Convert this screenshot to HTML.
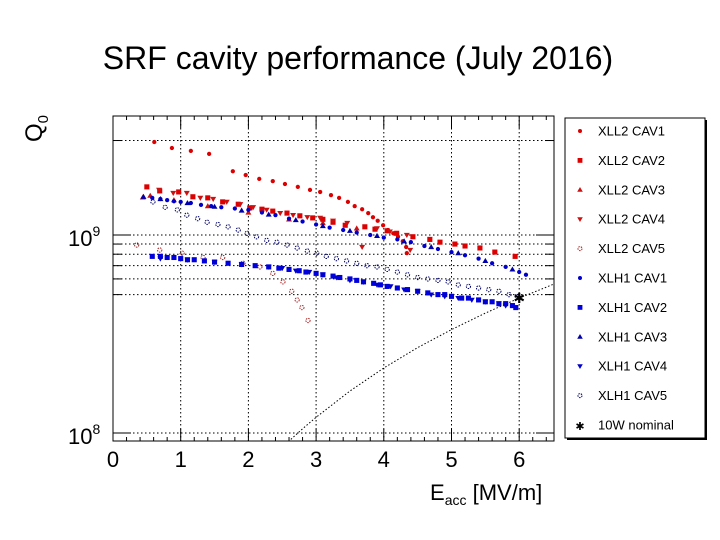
<!DOCTYPE html>
<html><head><meta charset="utf-8">
<style>
html,body{margin:0;padding:0;background:#fff;}
svg{display:block;font-family:"Liberation Sans",Arial,sans-serif;}
</style></head>
<body>
<svg id="chart" width="720" height="540" viewBox="0 0 720 540" xmlns="http://www.w3.org/2000/svg">
<text x="358" y="69" font-size="32" text-anchor="middle">SRF cavity performance (July 2016)</text>
<g id="grid"></g>
<g id="axes"></g>
<g id="marks"></g>
<text transform="translate(42,142) rotate(-90)" font-size="24">Q<tspan font-size="15" dy="6">0</tspan></text>
<text x="430" y="500" font-size="22">E<tspan font-size="14" dy="5">acc</tspan><tspan dy="-5"> [MV/m]</tspan></text>
<g id="legend"></g>
</svg>
<script>
const xTicks=[0,1,2,3,4,5,6];
const yGridVals=[0.1,0.5,0.6,0.7,0.8,0.9,1,3];
const e_xll2c1=[0.61,0.87,1.15,1.42,1.77,1.96,2.16,2.36,2.54,2.73,2.91,3.06,3.22,3.34,3.47,3.57,3.68,3.77,3.84,3.91,3.99,4.06,4.14,4.21,4.28,4.33,4.34];
const q_xll2c1=[2.95,2.75,2.66,2.57,2.10,2.01,1.92,1.87,1.81,1.75,1.69,1.65,1.59,1.54,1.47,1.40,1.35,1.29,1.23,1.18,1.12,1.06,1.02,0.98,0.93,0.87,0.81];
const e_xll2c2=[0.50,0.69,0.97,1.18,1.40,1.62,1.85,2.02,2.20,2.36,2.57,2.76,2.95,3.10,3.25,3.43,3.72,3.87,4.05,4.19,4.43,4.68,4.83,5.05,5.20,5.42,5.64,5.94];
const q_xll2c2=[1.75,1.67,1.65,1.56,1.54,1.47,1.43,1.37,1.35,1.32,1.29,1.25,1.22,1.20,1.16,1.12,1.10,1.07,1.05,1.02,0.98,0.95,0.92,0.90,0.88,0.86,0.82,0.78];
const e_xll2c3=[0.44,0.55,0.9,1.4,2.0,2.6,3.1,3.6];
const q_xll2c3=[1.55,1.58,1.50,1.40,1.30,1.20,1.15,1.08];
const e_xll2c4=[0.68,0.89,1.09,1.29,1.48,1.68,1.88,2.07,2.27,2.47,2.66,2.87,3.06,3.25,3.46,3.68,3.90,4.09,4.34,4.39];
const q_xll2c4=[1.69,1.63,1.63,1.54,1.52,1.47,1.43,1.38,1.34,1.29,1.26,1.23,1.22,1.18,1.15,0.87,1.08,1.04,1.00,0.84];
const e_xll2c5=[0.35,0.69,1.02,1.33,1.62,1.92,2.17,2.36,2.51,2.64,2.72,2.79,2.88];
const q_xll2c5=[0.89,0.84,0.81,0.77,0.77,0.72,0.69,0.64,0.58,0.52,0.47,0.43,0.37];
const e_xlh1c1=[0.58,0.7,0.8,0.9,1.0,1.15,1.3,1.45,1.6,1.8,2.0,2.2,2.4,2.6,2.8,3.0,3.2,3.4,3.6,3.8,4.0,4.2,4.4,4.6,4.8,5.0,5.2,5.4,5.6,5.8,6.0,6.1];
const q_xlh1c1=[1.54,1.52,1.50,1.48,1.47,1.45,1.42,1.40,1.38,1.36,1.34,1.30,1.26,1.21,1.17,1.13,1.09,1.06,1.03,1.00,0.97,0.95,0.92,0.88,0.85,0.82,0.79,0.76,0.72,0.69,0.65,0.63];
const q_xlh1c2=[0.78,0.78,0.77,0.77,0.76,0.75,0.75,0.74,0.73,0.72,0.71,0.70,0.69,0.68,0.67,0.66,0.65,0.64,0.63,0.62,0.61,0.60,0.59,0.58,0.57,0.56,0.55,0.54,0.53,0.52,0.51,0.50,0.50,0.49,0.48,0.48,0.47,0.46,0.46,0.45,0.45,0.44,0.43];
const e_xlh1c2=[0.58,0.7,0.8,0.9,1.0,1.1,1.2,1.35,1.5,1.7,1.9,2.1,2.3,2.45,2.6,2.75,2.85,3.0,3.1,3.25,3.35,3.5,3.6,3.7,3.85,3.95,4.05,4.2,4.35,4.5,4.65,4.8,4.9,5.0,5.15,5.25,5.4,5.5,5.6,5.7,5.8,5.9,5.95];
const e_xlh1c3=[0.45,0.7,1.1,1.5,1.9,2.3,2.7,3.1,3.5,3.9,4.3,4.7,5.1,5.5,5.9];
const q_xlh1c3=[1.56,1.52,1.45,1.39,1.33,1.27,1.19,1.11,1.05,0.99,0.93,0.87,0.81,0.74,0.67];
const e_xlh1c4=[0.7,1.1,1.5,1.9,2.3,2.5,2.7,2.9,3.1,3.3,3.5,3.7,3.9,4.1,4.3,4.5,4.7,4.9,5.1,5.3,5.5,5.7,5.8];
const q_xlh1c4=[0.76,0.75,0.73,0.71,0.69,0.68,0.66,0.65,0.63,0.61,0.59,0.58,0.56,0.55,0.53,0.52,0.50,0.49,0.48,0.47,0.46,0.45,0.44];
const e_xlh1c5=[0.59,0.77,0.95,1.09,1.25,1.39,1.55,1.70,1.85,1.98,2.12,2.27,2.42,2.57,2.72,2.87,3.01,3.15,3.30,3.45,3.60,3.75,3.90,4.05,4.20,4.35,4.50,4.65,4.80,4.95,5.10,5.25,5.40,5.55,5.70,5.85,5.97];
const q_xlh1c5=[1.47,1.38,1.34,1.26,1.21,1.16,1.13,1.10,1.06,1.02,0.98,0.94,0.92,0.89,0.86,0.83,0.81,0.78,0.76,0.74,0.72,0.70,0.69,0.67,0.65,0.63,0.61,0.60,0.59,0.58,0.56,0.55,0.54,0.53,0.52,0.50,0.49];
const e_nominal=[0,2.6,2.8,3.0,3.5,4.0,4.5,5.0,5.5,6.0,6.5];
const q_nominal=[0.091,0.090,0.105,0.12,0.163,0.213,0.27,0.333,0.403,0.48,0.563];
const e_star=[6.0];
const q_star=[0.48];
const legendLabels=["XLL2 CAV1","XLL2 CAV2","XLL2 CAV3","XLL2 CAV4","XLL2 CAV5","XLH1 CAV1","XLH1 CAV2","XLH1 CAV3","XLH1 CAV4","XLH1 CAV5","10W nominal"];

const NS="http://www.w3.org/2000/svg";
const X0=113,X1=554,Y0=116,Y1=441;
function xs(e){return 113+e*67.7;}
function ys(q){return 235-198*Math.log10(q);}
const qMin=Math.pow(10,(235-441)/198);
function mk(tag,attrs,parent){const el=document.createElementNS(NS,tag);for(const k in attrs)el.setAttribute(k,attrs[k]);parent.appendChild(el);return el;}
const grid=document.getElementById('grid'),axes=document.getElementById('axes'),marks=document.getElementById('marks'),legend=document.getElementById('legend');

xTicks.forEach(t=>{
  if(t>0){const g=mk('line',{x1:xs(t),x2:xs(t),y1:Y0,y2:Y1,stroke:'#000','stroke-width':1,'stroke-dasharray':'1.5,2.5'},grid);
  
  }
  const l=mk('text',{x:xs(t),y:467,'font-size':22,'text-anchor':'middle'},axes);l.textContent=t;
  
  
});
yGridVals.forEach(v=>{
  const g=mk('line',{x1:X0,x2:X1,y1:ys(v),y2:ys(v),stroke:'#000','stroke-width':1,'stroke-dasharray':'1.5,2.5'},grid);
  
  
  mk('line',{x1:X0,x2:X0+(v===1||v===0.1?18:9),y1:ys(v),y2:ys(v),stroke:'#000'},axes);
  mk('line',{x1:X1,x2:X1-(v===1||v===0.1?18:9),y1:ys(v),y2:ys(v),stroke:'#000'},axes);
});
for(let t=0.2;t<6.6;t+=0.2){
  const big=Math.abs(t-Math.round(t))<0.01;const h=big?12:(Math.abs(t*2-Math.round(t*2))<0.01?7:4);
  mk('line',{x1:xs(t),x2:xs(t),y1:Y1,y2:Y1-h,stroke:'#000'},axes);
  mk('line',{x1:xs(t),x2:xs(t),y1:Y0,y2:Y0+h,stroke:'#000'},axes);
}
const fr=mk('rect',{x:X0,y:Y0,width:X1-X0,height:Y1-Y0,fill:'none',stroke:'#000','stroke-width':1},axes);


[[1,240],[0.1,438]].forEach(([v,y])=>{
  const t=mk('text',{x:68,y:y+6,'font-size':22},axes);t.innerHTML='10<tspan font-size="14" dy="-10">'+(v===1?9:8)+'</tspan>';
  
  
});

function marker(type,x,y,color,parent,s){
  s=s||0.85;
  if(type==='circle')return mk('circle',{cx:x,cy:y,r:2.5*s,fill:color},parent);
  if(type==='square')return mk('rect',{x:x-3*s,y:y-3*s,width:6*s,height:6*s,fill:color},parent);
  if(type==='tri')return mk('path',{d:`M${x},${y-3.5*s}L${x+3.5*s},${y+2.5*s}L${x-3.5*s},${y+2.5*s}Z`,fill:color},parent);
  if(type==='tridown')return mk('path',{d:`M${x},${y+3.5*s}L${x+3.5*s},${y-2.5*s}L${x-3.5*s},${y-2.5*s}Z`,fill:color},parent);
  if(type==='open')return mk('circle',{cx:x,cy:y,r:2.5*s,fill:'none',stroke:color,'stroke-width':1,'stroke-dasharray':'1.5,1'},parent);
  if(type==='star')return mk('text',{x:x,y:y+5,'font-size':14*s,'text-anchor':'middle',fill:color},parent);
}
const series=[
 ['xll2-cav1',e_xll2c1,q_xll2c1,'circle','#dd0000'],
 ['xll2-cav2',e_xll2c2,q_xll2c2,'square','#dd0000'],
 ['xll2-cav3',e_xll2c3,q_xll2c3,'tri','#cc1111'],
 ['xll2-cav4',e_xll2c4,q_xll2c4,'tridown','#cc1111'],
 ['xll2-cav5',e_xll2c5,q_xll2c5,'open','#aa2222'],
 ['xlh1-cav5',e_xlh1c5,q_xlh1c5,'open','#000066'],
 ['xlh1-cav1',e_xlh1c1,q_xlh1c1,'circle','#0000cc'],
 ['xlh1-cav2',e_xlh1c2,q_xlh1c2,'square','#0000dd'],
 ['xlh1-cav3',e_xlh1c3,q_xlh1c3,'tri','#0000aa'],
 ['xlh1-cav4',e_xlh1c4,q_xlh1c4,'tridown','#0000cc']
];
const pts=e_nominal.map((e,i)=>xs(e)+','+ys(Math.max(q_nominal[i],qMin)).toFixed(1)).join(' ');
const nl=mk('polyline',{points:pts,fill:'none',stroke:'#000','stroke-width':1,'stroke-dasharray':'1.5,2'},marks);


series.forEach(([name,E,Q,type,color])=>{
  const g=mk('g',{},marks);
  
  
  E.forEach((e,i)=>{
    const m=marker(type,xs(e),ys(Q[i]),color,g);
    
    
  });
});
e_star.forEach((e,i)=>{
  const s=marker('star',xs(e),ys(q_star[i]),'#000',marks,1);s.textContent='✱';
  
  
});

const sh=mk('rect',{x:567,y:120,width:140,height:320,fill:'#000'},legend);
const lb=mk('rect',{x:565,y:118,width:140,height:320,fill:'#fff',stroke:'#000','stroke-width':1},legend);


const lt=['circle','square','tri','tridown','open','circle','square','tri','tridown','open','star'];
const lc=['#dd0000','#dd0000','#cc1111','#cc1111','#aa2222','#0000cc','#0000dd','#0000aa','#0000cc','#000066','#000'];
legendLabels.forEach((lab,i)=>{
  const y=131+i*29.4;
  const g=mk('g',{},legend);
  
  
  const m=marker(lt[i],580,y,lc[i],g,0.8);
  if(lt[i]==='star')m.textContent='✱';
  const t=mk('text',{x:598,y:y+4.5,'font-size':13},g);t.textContent=lab;
});
</script>
</body></html>
